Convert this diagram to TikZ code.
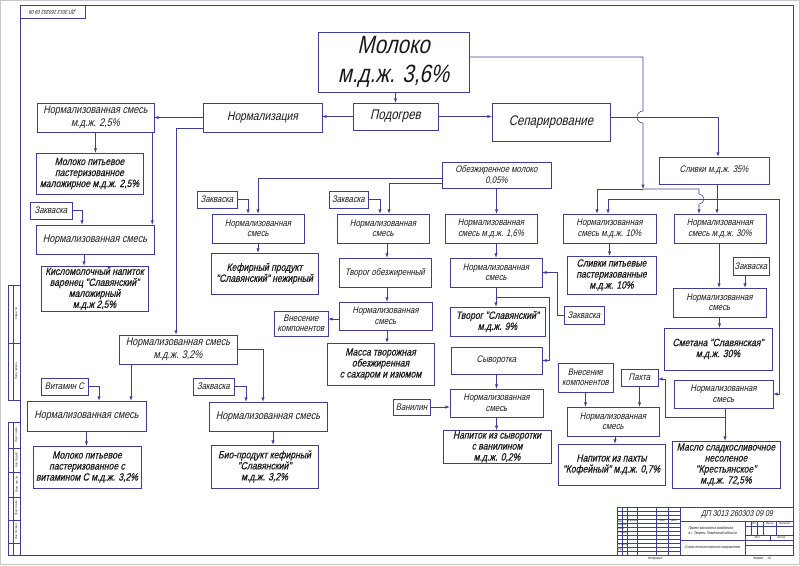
\documentclass[tikz,border=0pt]{standalone}
\usepackage{fontspec}
\newfontfamily\gost{Liberation Sans}[FakeStretch=0.82,FakeSlant=0.22]
\newfontfamily\gostb{Liberation Sans}[FakeStretch=0.82,FakeSlant=0.22,FakeBold=0.5]
\usetikzlibrary{arrows}
\definecolor{frm}{RGB}{62,62,150}
\definecolor{txt}{RGB}{25,25,25}
\tikzset{sz/.style 2 args={minimum width=#1pt, minimum height=#2pt}}

\begin{document}
\begin{tikzpicture}[x=1pt,y=-1pt,>=latex,line width=0.55pt]
	\tikzstyle{box} = [draw=frm, rectangle, inner sep=1pt, align=center, text=txt, font=\gost\fontsize{9.5}{10.5}\selectfont]
	\tikzstyle{prod} = [box, font=\gostb\fontsize{10.5}{11}\selectfont]
	\tikzstyle{mid} = [box, font=\gost\fontsize{11}{13}\selectfont]
	\tikzstyle{proc} = [box, font=\gost\fontsize{14}{15}\selectfont]
	\tikzstyle{flow} = [draw=frm, ->]
	\tikzstyle{tiny} = [inner sep=0pt, text=txt, font=\gost\fontsize{3}{3.5}\selectfont]

	% sheet, frame and stamps
	\useasboundingbox (0,0) rectangle (800,565);
	\draw[black!22, line width=1pt] (0.5,0.5) rectangle (799.5,564.5);
	\draw[frm] (20,5) rectangle (793,555);
	\draw[frm] (20,5) rectangle (85,18);
	\node[tiny, rotate=180, font=\gost\fontsize{5.5}{6}\selectfont] (code) at (52.5,11.5) {ДП 3013 260303 09 09};
	\draw[frm, line width=0.4pt] (8,285) rectangle (20,400) (13,285) -- (13,400) (8,343) -- (20,343);
	\draw[frm, line width=0.4pt] (8,422) rectangle (20,555) (13,422) -- (13,555);
	\foreach \y in {448,472,497,520,543} \draw[frm, line width=0.4pt] (8,\y) -- (20,\y);
	\node[tiny, rotate=90] (s1) at (16.5,314) {Справ. №};
	\node[tiny, rotate=90] (s2) at (16.5,371) {Перв. примен.};
	\node[tiny, rotate=90] (s3) at (16.5,435) {Подп. и дата};
	\node[tiny, rotate=90] (s4) at (16.5,460) {Инв. № дубл.};
	\node[tiny, rotate=90] (s5) at (16.5,484.5) {Взам. инв. №};
	\node[tiny, rotate=90] (s6) at (16.5,508.5) {Подп. и дата};
	\node[tiny, rotate=90] (s7) at (16.5,531.5) {Инв. № подл.};

	% title block
	\draw[frm, line width=0.4pt] (617,507) rectangle (793,555);
	\foreach \x in {622,627,637,656,668} \draw[frm, line width=0.4pt] (\x,507) -- (\x,555);
	\foreach \y in {511,515,519,527,531,535,539,543,547,551} \draw[frm, line width=0.3pt] (617,\y) -- (680,\y);
	\draw[frm, line width=0.7pt] (617,523) -- (680,523) (680,507) -- (680,555);
	\draw[frm, line width=0.5pt] (680,521) -- (793,521) (745,521) -- (745,555) (680,540) -- (793,540);
	\draw[frm, line width=0.3pt] (745,526) -- (793,526) (745,535) -- (793,535) (745,545) -- (793,545);
	\foreach \x in {751,757,763,776} \draw[frm, line width=0.3pt] (\x,521) -- (\x,535);
	\draw[frm, line width=0.3pt] (770,535) -- (770,540);
	\node[tiny, font=\gost\fontsize{8.5}{9}\selectfont] (dp) at (737,514) {ДП 3013 260303 09 09};
	\node[tiny, font=\gost\fontsize{4}{5.5}\selectfont, align=left] (tema) at (712.5,530.5) {Проект молочного комбината\\в г. Тюмень Тюменской области};
	\node[tiny, font=\gost\fontsize{3.8}{4.5}\selectfont] (sxema) at (712.5,547.5) {Схема технологического направления};
	\node[tiny] (t1) at (619.5,521) {Изм.};
	\node[tiny] (t2) at (632,521) {№ докум.};
	\node[tiny] (t3) at (662,521) {Подп.};
	\node[tiny] (t4) at (674,521) {Дата};
	\node[tiny, anchor=west] (t5) at (617.5,525) {Разраб.};
	\node[tiny, anchor=west] (t6) at (617.5,529) {Пров.};
	\node[tiny, anchor=west] (t7) at (617.5,533) {Т. контр.};
	\node[tiny, anchor=west] (t8) at (617.5,545) {Н. контр.};
	\node[tiny, anchor=west] (t9) at (617.5,549) {Утв.};
	\node[tiny] (t10) at (754,523.5) {Лит.};
	\node[tiny] (t11) at (769.5,523.5) {Масса};
	\node[tiny] (t12) at (784.5,523.5) {Масштаб};
	\node[tiny] (t13) at (757,537.5) {Лист};
	\node[tiny] (t14) at (781,537.5) {Листов};
	\node[tiny, font=\gost\fontsize{3.5}{4}\selectfont] (kop) at (655,559) {Копировал};
	\node[tiny, font=\gost\fontsize{3.5}{4}\selectfont] (fmt) at (762,559) {Формат \quad А1};

	% main stream
	\node[proc, sz={151}{60}, font=\gost\fontsize{25}{29}\selectfont] (moloko) at (393.5,62) {Молоко\\м.д.ж. 3,6\%};
	\node[proc, sz={85}{27}] (podogrev) at (395.5,116.5) {Подогрев};
	\node[proc, sz={119}{29}, font=\gost\fontsize{12.5}{14}\selectfont] (normaliz) at (262.5,117.5) {Нормализация};
	\node[proc, sz={118}{38}] (separ) at (551,122) {Сепарирование};

	% left column
	\node[mid, sz={117}{29}] (ns25) at (95.5,117.5) {Нормализованная смесь\\м.д.ж. 2,5\%};
	\node[prod, sz={107}{41}] (mol25) at (89.5,173.5) {Молоко питьевое\\пастеризованное\\маложирное м.д.ж. 2,5\%};
	\node[box, sz={42}{17}] (zakv1) at (51,210.5) {Закваска};
	\node[mid, sz={118}{29}] (nsKM) at (95,239.5) {Нормализованная смесь};
	\node[prod, sz={107}{45}] (kislomol) at (94.5,288.5) {Кисломолочный напиток\\варенец "Славянский"\\маложирный\\м.д.ж 2,5\%};
	\node[mid, sz={118}{29}] (ns32) at (178,349.5) {Нормализованная смесь\\м.д.ж. 3,2\%};
	\node[box, sz={47}{17}] (vitC) at (64.5,386.5) {Витамин С};
	\node[mid, sz={119}{30}] (nsVit) at (86.5,416) {Нормализованная смесь};
	\node[prod, sz={108}{42}] (molVit) at (87,467) {Молоко питьевое\\пастеризованное с\\витамином С м.д.ж. 3,2\%};
	\node[box, sz={41}{17}] (zakv5) at (213.5,386.5) {Закваска};
	\node[mid, sz={118}{29}] (nsBio) at (268,416.5) {Нормализованная смесь};
	\node[prod, sz={107}{43}] (bio) at (264.5,466.5) {Био-продукт кефирный\\"Славянский"\\м.д.ж. 3,2\%};

	% skim milk
	\node[box, sz={40}{17}] (zakv2) at (217,199.5) {Закваска};
	\node[box, sz={92}{29}] (nsKef) at (258,228.5) {Нормализованная\\смесь};
	\node[prod, sz={107}{41}] (kefir) at (264.5,273.5) {Кефирный продукт\\"Славянский" нежирный};
	\node[box, sz={39}{17}] (zakv3) at (348.5,199.5) {Закваска};
	\node[box, sz={92}{29}] (nsTv) at (383,228.5) {Нормализованная\\смесь};
	\node[box, sz={92}{29}] (tvorObez) at (385,272.5) {Творог обезжиренный};
	\node[box, sz={93}{28}] (nsMas) at (385.5,316) {Нормализованная\\смесь};
	\node[box, sz={54}{25}] (vnes1) at (301,323.5) {Внесение\\компонентов};
	\node[prod, sz={107}{42}] (massa) at (380.5,364) {Масса творожная\\обезжиренная\\с сахаром и изюмом};

	\node[box, sz={109}{26}] (obezh) at (496.5,175) {Обезжиренное молоко\\0,05\%};
	\node[box, sz={92}{29}] (ns16) at (491,228.5) {Нормализованная\\смесь м.д.ж. 1,6\%};
	\node[box, sz={92}{29}] (nsTvS) at (496,272.5) {Нормализованная\\смесь};
	\node[box, sz={40}{18}] (zakv4) at (584,315) {Закваска};
	\node[prod, sz={95}{29}] (tvorS) at (497.5,321.5) {Творог "Славянский"\\м.д.ж. 9\%};
	\node[box, sz={91}{27}] (syv) at (496.5,360.5) {Сыворотка};
	\node[box, sz={93}{28}] (nsSyv) at (496.5,403) {Нормализованная\\смесь};
	\node[box, sz={37}{16}] (vanil) at (411.5,407) {Ванилин};
	\node[prod, sz={108}{32}] (napSyv) at (497,447) {Напиток из сыворотки\\с ванилином\\м.д.ж. 0,2\%};

	% cream
	\node[box, sz={110}{27}] (slivki35) at (714,170.5) {Сливки м.д.ж. 35\%};
	\node[box, sz={93}{29}] (ns10) at (609.5,228.5) {Нормализованная\\смесь м.д.ж. 10\%};
	\node[box, sz={92}{29}] (ns30) at (720,228.5) {Нормализованная\\смесь м.д.ж. 30\%};
	\node[prod, sz={89}{38}] (slivPit) at (611.5,275) {Сливки питьевые\\пастеризованные\\м.д.ж. 10\%};
	\node[box, sz={36}{18}] (zakv6) at (751,266) {Закваска};
	\node[box, sz={93}{29}] (nsSm) at (719.5,302.5) {Нормализованная\\смесь};
	\node[prod, sz={108}{42}] (smetana) at (718,349) {Сметана "Славянская"\\м.д.ж. 30\%};
	\node[box, sz={99}{28}] (nsMsl) at (723.5,394) {Нормализованная\\смесь};
	\node[prod, sz={108}{47}] (maslo) at (726,464.5) {Масло сладкосливочное\\несоленое\\"Крестьянское"\\м.д.ж. 72,5\%};
	\node[box, sz={37}{17}] (pahta) at (639.5,377.5) {Пахта};
	\node[box, sz={55}{29}] (vnes2) at (585.5,377.5) {Внесение\\компонентов};
	\node[box, sz={92}{29}] (nsKof) at (613,421.5) {Нормализованная\\смесь};
	\node[prod, sz={107}{41}] (napPahta) at (611.5,464.5) {Напиток из пахты\\"Кофейный" м.д.ж. 0,7\%};

	\coordinate (jm) at (643,189);
	\coordinate (js) at (717,199);
	\coordinate (jb) at (725,417);

	% main stream
	\draw[flow] (podogrev.north |- moloko.south) -- (podogrev.north);
	\draw[flow] (podogrev.west) -- (podogrev.west -| normaliz.east);
	\draw[flow] (podogrev.east) -- (podogrev.east -| separ.west);
	\draw[flow] (normaliz.west) -- (normaliz.west -| ns25.east);
	\draw[flow] ([yshift=-10.5pt]normaliz.west) -| ([xshift=-2pt]ns32.north);

	% left column
	\draw[flow] (ns25.south) -- (ns25.south |- mol25.north);
	\draw[flow] ([xshift=-2pt]ns25.south east) -- ([xshift=-2pt]ns25.south east |- nsKM.north);
	\draw[flow] (zakv1.east) -| ([xshift=-13pt]nsKM.north);
	\draw[flow] ([xshift=-11pt]nsKM.south) -- ([xshift=-11pt]nsKM.south |- kislomol.north);
	\draw[flow] ([xshift=-47pt]ns32.south) -- ([xshift=-47pt]ns32.south |- nsVit.north);
	\draw[flow] (ns32.east) -| ([xshift=-5pt]nsBio.north);
	\draw[flow] (vitC.east) -| ([xshift=12.5pt]nsVit.north);
	\draw[flow] (nsVit.south) -- (nsVit.south |- molVit.north);
	\draw[flow] (zakv5.east) -| ([xshift=-22pt]nsBio.north);
	\draw[flow] ([xshift=5pt]nsBio.south) -- ([xshift=5pt]nsBio.south |- bio.north);

	% skim milk
	\draw[flow] ([yshift=-3pt]obezh.west) -| (nsKef.north);
	\draw[flow] ([yshift=-8pt]obezh.west) -| ([xshift=6pt]nsTv.north);
	\draw[flow] (zakv2.east) -| ([xshift=-10pt]nsKef.north);
	\draw[flow] (nsKef.south) -- (nsKef.south |- kefir.north);
	\draw[flow] (zakv3.east) -| ([xshift=-3pt]nsTv.north);
	\draw[flow] ([xshift=4pt]nsTv.south) -- ([xshift=4pt]nsTv.south |- tvorObez.north);
	\draw[flow] ([xshift=2pt]tvorObez.south) -- ([xshift=2pt]tvorObez.south |- nsMas.north);
	\draw[flow] ([yshift=-3pt]nsMas.west) -- ([yshift=-3pt]nsMas.west -| vnes1.east);
	\draw[flow] ([xshift=1.5pt]nsMas.south) -- ([xshift=1.5pt]nsMas.south |- massa.north);
	\draw[flow] (obezh.south) -- (obezh.south |- ns16.north);
	\draw[flow] ([xshift=5pt]ns16.south) -- ([xshift=5pt]ns16.south |- nsTvS.north);
	\draw[flow] (zakv4.west) -- ++(-6,0) |- (nsTvS.east);
	\draw[flow] (nsTvS.south) -- (nsTvS.south |- tvorS.north);
	\draw[flow] ([yshift=-10pt]nsTvS.south) -- ++(53,0) |- (syv.east);
	\draw[flow] (syv.south) -- (syv.south |- nsSyv.north);
	\draw[flow] (vanil.east) -- (vanil.east -| nsSyv.west);
	\draw[flow] (nsSyv.south) -- (nsSyv.south |- napSyv.north);

	% whole milk and cream
	\draw[flow] ([yshift=5pt]moloko.east) -| (643,111) arc[start angle=270, end angle=90, radius=6] -- (jm);
	\draw[flow] (jm) -| ([xshift=-12.5pt]ns10.north);
	\draw[flow] (jm) -| (699,194) arc[start angle=-90, end angle=90, radius=5] -- ([xshift=-21pt]ns30.north);
	\draw[flow] ([yshift=5pt]separ.east) -| ([xshift=4pt]slivki35.north);
	\draw[flow] ([xshift=3pt]slivki35.south) -- ([xshift=3pt]slivki35.south |- ns30.north);
	\draw[flow] (js) -| ([xshift=-1.5pt]ns10.north);
	\draw[flow] (js) -| ([xshift=5.5pt]nsMsl.east) -- (nsMsl.east);
	\draw[flow] (ns10.south) -- (ns10.south |- slivPit.north);
	\draw[flow] ([xshift=-1pt]ns30.south) -- ([xshift=-1pt]ns30.south |- nsSm.north);
	\draw[flow] ([xshift=-6pt]zakv6.south) -- ([xshift=-6pt]zakv6.south |- nsSm.north);
	\draw[flow] (nsSm.south) -- (nsSm.south |- smetana.north);
	\draw[flow] ([xshift=1.5pt]nsMsl.south) -- ([xshift=1.5pt]nsMsl.south |- maslo.north);
	\draw[flow] (jb) -| ([xshift=7pt,yshift=-1.5pt]pahta.east) -- ([yshift=-1.5pt]pahta.east);
	\draw[flow] (vnes2.south) -- (vnes2.south |- nsKof.north);
	\draw[flow] (pahta.south) -- (pahta.south |- nsKof.north);
	\draw[flow] ([xshift=2pt]nsKof.south) -- ([xshift=2pt]nsKof.south |- napPahta.north);
\end{tikzpicture}
\end{document}
